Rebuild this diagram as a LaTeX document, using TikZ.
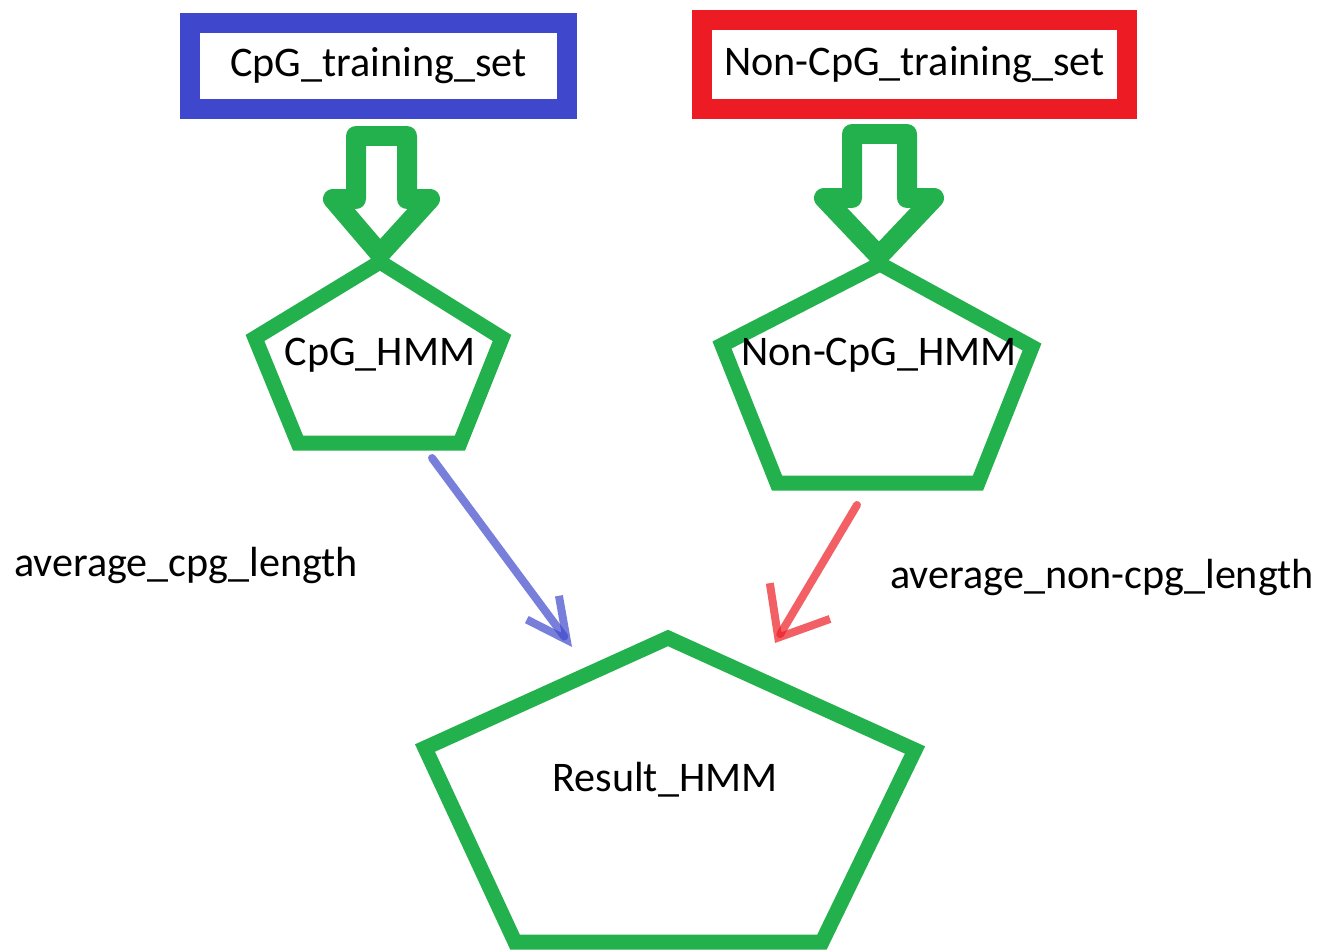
\documentclass[tikz,border=0pt]{standalone}
\usepackage{fontspec}
\setmainfont{Carlito}
\usepackage{tikz}
\usetikzlibrary{arrows.meta,positioning}

\definecolor{paintgreen}{RGB}{34,177,76}
\definecolor{paintblue}{RGB}{63,72,204}
\definecolor{paintred}{RGB}{237,28,36}

\begin{document}
\begin{tikzpicture}[x=0.02cm,y=-0.02cm,
    lbl/.style={font=\fontsize{24}{29}\selectfont,inner sep=0pt},
    setbox/.style={lbl,draw,line width=0.4cm,inner sep=0pt},
    pent/.style={draw=paintgreen,line width=0.3cm},
    feed/.style={draw=paintgreen,line width=0.4cm,line join=round},
    sketch/.style={line width=0.16cm,opacity=0.7,line cap=round}]
  \useasboundingbox (0,0) rectangle (1326,950);
  % training sets
  \node[setbox,draw=paintblue,minimum width=7.54cm,minimum height=1.72cm] (cpgset) at (378.5,66) {CpG\_training\_set};
  \node[setbox,draw=paintred,minimum width=8.5cm,minimum height=1.78cm] (noncpgset) at (914.5,64.5) {Non-CpG\_training\_set};
  % block arrows
  \draw[feed] (356,136) -- (407,136) -- (407,199) -- (430,199) -- (380,254) -- (333,199) -- (356,199) -- cycle ;
  \draw[feed] (852,134) -- (907,134) -- (907,198) -- (934,198) -- (879,256) -- (824,198) -- (852,198) -- cycle ;
  % models
  \draw[pent] (380,262) -- (502,338) -- (460,443) -- (298,443) -- (255,338) -- cycle ;
  \node[lbl] (cpghmm) at (380,355) {CpG\_HMM};
  \draw[pent] (880,264) -- (1032,347) -- (978,483) -- (777,483) -- (722,345) -- cycle ;
  \node[lbl] (noncpghmm) at (879,355) {Non-CpG\_HMM};
  \draw[pent] (668,638) -- (915,750) -- (822,942) -- (515,942) -- (425,748) -- cycle ;
  \node[lbl] (result) at (665,780) {Result\_HMM};
  % lengths
  \coordinate (cpgout) at (432,458) ;
  \coordinate (resin1) at (572,647) ;
  \coordinate (noncpgout) at (857,505) ;
  \coordinate (resin2) at (775,643) ;
  \draw[sketch,paintblue,-{Straight Barb[length=0.8cm,width=0.8cm]}] (cpgout) -- (resin1) ;
  \draw[sketch,paintred,-{Straight Barb[length=0.85cm,width=1.4cm]}] (noncpgout) -- (resin2) ;
  \node[lbl] (cpglen) at (186,565) {average\_cpg\_length};
  \node[lbl] (noncpglen) at (1102,577) {average\_non-cpg\_length};
\end{tikzpicture}
\end{document}
